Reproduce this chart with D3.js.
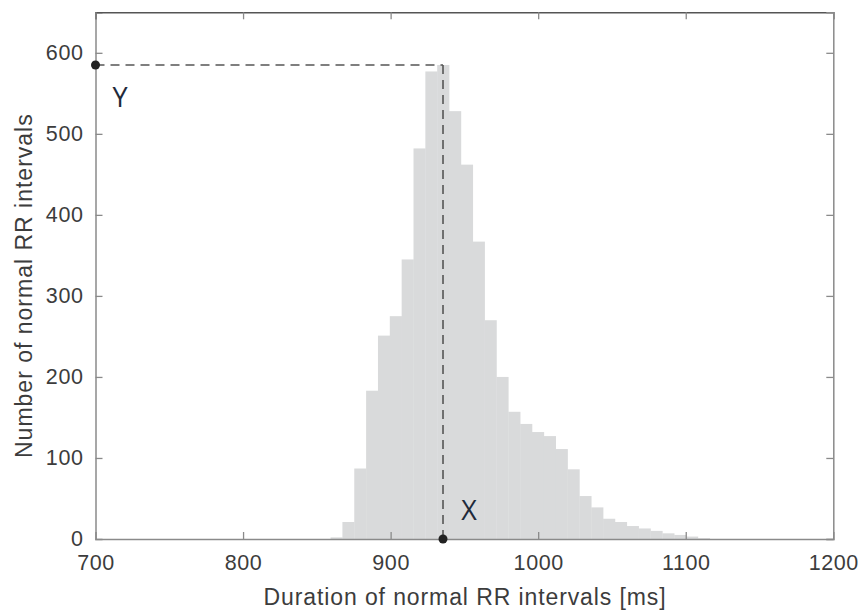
<!DOCTYPE html>
<html>
<head>
<meta charset="utf-8">
<script src="https://cdn.jsdelivr.net/npm/d3@7"></script>
<style>
  body { margin: 0; background: #fff; }
  text { font-family: "Liberation Sans", Arial, sans-serif; }
</style>
</head>
<body>
<script>
const width = 861, height = 612;

// histogram of RR intervals, bin width ~8 ms
const binStart = 859.3;
const binWidth = 8.03;
const counts = [2, 21, 87, 183, 251, 275, 345, 482, 577, 585, 528, 462, 367, 270, 200, 157,
    142, 132, 127, 111, 86, 53, 39, 25, 21, 16, 13, 10, 7, 5, 3, 1];

const xTicks = [700, 800, 900, 1000, 1100, 1200];
const yTicks = [0, 100, 200, 300, 400, 500, 600];
const mode = { x: 935.5, y: 585 };

const margin = { left: 95.5, right: 27.7, top: 12.3, bottom: 73 };

const svg = d3.select("body").append("svg")
    .attr("width", width)
    .attr("height", height);

const x = d3.scaleLinear().domain([700, 1200]).range([margin.left, width - margin.right]);
const y = d3.scaleLinear().domain([0, 650]).range([height - margin.bottom, margin.top]);

const bins = counts.map((c, i) => ({ x0: binStart + i * binWidth, x1: binStart + (i + 1) * binWidth, n: c }));

svg.append("g").selectAll("rect")
    .data(bins)
    .enter().append("rect")
        .attr("x", d => x(d.x0))
        .attr("width", d => x(d.x1) - x(d.x0) + 0.3)
        .attr("y", d => y(d.n))
        .attr("height", d => y(0) - y(d.n))
        .attr("fill", "#d9dadb");

// dashed guides to the mode
const guide = svg.append("g")
    .attr("stroke", "#555")
    .attr("stroke-width", 1.6)
    .attr("stroke-dasharray", "9,6")
    .attr("fill", "none");
guide.append("line")
    .attr("x1", x(700)).attr("x2", x(mode.x))
    .attr("y1", y(mode.y)).attr("y2", y(mode.y));
guide.append("line")
    .attr("x1", x(mode.x)).attr("x2", x(mode.x))
    .attr("y1", y(mode.y)).attr("y2", y(0));

// axes with inward ticks, MATLAB style box
const axisColor = "#8a8a8a";
const fmt = d3.format("d");
const xAxis = svg.append("g")
    .attr("transform", `translate(0,${y(0)})`)
    .call(d3.axisBottom(x).tickValues(xTicks).tickSize(-7).tickPadding(16).tickFormat(fmt));
const yAxis = svg.append("g")
    .attr("transform", `translate(${x(700)},0)`)
    .call(d3.axisLeft(y).tickValues(yTicks).tickSize(-7).tickPadding(12).tickFormat(fmt));
const xTop = svg.append("g")
    .attr("transform", `translate(0,${y(650)})`)
    .call(d3.axisTop(x).tickValues(xTicks).tickSize(-7).tickFormat(""));
const yRight = svg.append("g")
    .attr("transform", `translate(${x(1200)},0)`)
    .call(d3.axisRight(y).tickValues(yTicks).tickSize(-7).tickFormat(""));

[xAxis, yAxis, xTop, yRight].forEach(g => {
    g.select(".domain").attr("stroke", axisColor).attr("stroke-width", 1.5);
    g.selectAll(".tick line").attr("stroke", axisColor).attr("stroke-width", 1.3);
    g.selectAll(".tick text")
        .attr("fill", "#3c3c3c")
        .style("font-size", "21.5px")
        .style("letter-spacing", "0.6px")
        .style("font-family", "Liberation Sans, Arial, sans-serif");
});
xTop.select(".domain").attr("stroke", "#555");
xAxis.selectAll(".tick").filter(d => d === 700 || d === 1200).select("line").remove();
yAxis.selectAll(".tick").filter(d => d === 0).select("line").remove();

// endpoints
svg.append("circle").attr("cx", x(700)).attr("cy", y(mode.y)).attr("r", 4.5).attr("fill", "#222");
svg.append("circle").attr("cx", x(mode.x)).attr("cy", y(0)).attr("r", 4.5).attr("fill", "#222");

svg.append("text")
    .attr("x", 120).attr("y", 107)
    .attr("text-anchor", "middle")
    .style("font-family", "Open Sans, sans-serif")
    .style("font-size", "27px")
    .attr("fill", "#1f2a3a")
    .text("Y");
svg.append("text")
    .attr("x", 469).attr("y", 520)
    .attr("text-anchor", "middle")
    .style("font-family", "Open Sans, sans-serif")
    .style("font-size", "27px")
    .attr("fill", "#1f2a3a")
    .text("X");

// axis titles
svg.append("text")
    .attr("x", 465).attr("y", 605)
    .attr("text-anchor", "middle")
    .attr("fill", "#3c3c3c")
    .style("font-size", "23px")
    .style("letter-spacing", "0.9px")
    .text("Duration of normal RR intervals [ms]");
svg.append("text")
    .attr("transform", `translate(32,${(y(0) + y(650)) / 2 + 10}) rotate(-90)`)
    .attr("text-anchor", "middle")
    .attr("fill", "#3c3c3c")
    .style("font-size", "23px")
    .style("letter-spacing", "1px")
    .text("Number of normal RR intervals");
</script>
</body>
</html>
